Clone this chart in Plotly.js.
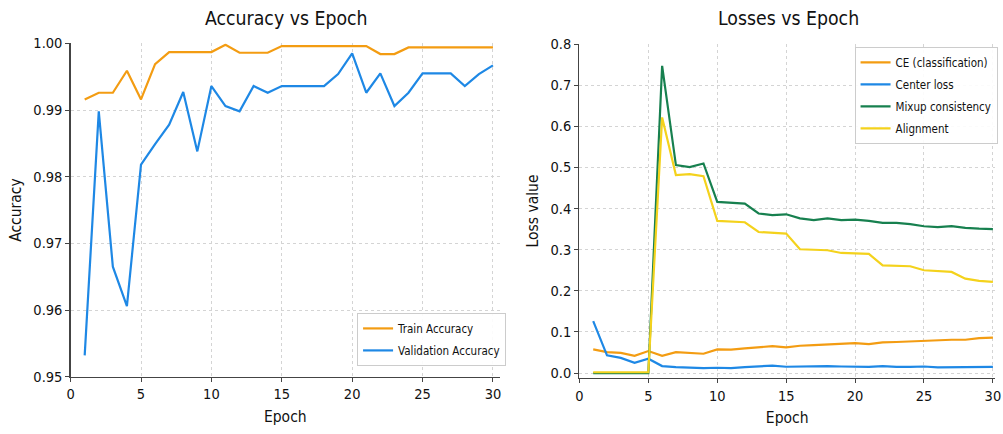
<!DOCTYPE html>
<html>
<head>
<meta charset="utf-8">
<script src="https://cdn.plot.ly/plotly-3.0.1.min.js"></script>
<style>html,body{margin:0;padding:0;background:#fff;}#chart{width:1003px;height:434px;}</style>
</head>
<body>
<div id="chart"></div>
<script>
const epochs = [1,2,3,4,5,6,7,8,9,10,11,12,13,14,15,16,17,18,19,20,21,22,23,24,25,26,27,28,29,30];
const xTicks = [0,5,10,15,20,25,30];

const trainAcc = [0.9916,0.9926,0.9926,0.9959,0.9916,0.9969,0.9987,0.9987,0.9987,0.9987,
                  0.9998,0.9986,0.9986,0.9986,0.9996,0.9996,0.9996,0.9996,0.9996,0.9996,
                  0.9996,0.9984,0.9984,0.9994,0.9994,0.9994,0.9994,0.9994,0.9994,0.9994];
const valAcc   = [0.9532,0.9898,0.9665,0.9606,0.9818,0.9849,0.9878,0.9927,0.9838,0.9936,
                  0.9906,0.9898,0.9936,0.9926,0.9936,0.9936,0.9936,0.9936,0.9954,0.9985,
                  0.9926,0.9955,0.9906,0.9926,0.9955,0.9955,0.9955,0.9936,0.9954,0.9967];

const ceLoss     = [0.0575,0.051,0.049,0.042,0.0535,0.042,0.051,0.0495,0.047,0.0576,
                    0.057,0.060,0.063,0.0655,0.0625,0.0665,0.068,0.0695,0.0705,0.073,
                    0.0705,0.0745,0.0755,0.077,0.0795,0.081,0.081,0.081,0.085,0.086];
const centerLoss = [0.1265,0.043,0.037,0.025,0.035,0.017,0.0146,0.013,0.012,0.013,
                    0.012,0.0146,0.0154,0.018,0.0154,0.016,0.016,0.017,0.016,0.016,
                    0.015,0.017,0.015,0.015,0.016,0.014,0.014,0.015,0.015,0.015];
const mixupLoss  = [0.0,0.0,0.0,0.0,0.0,0.747,0.5056,0.5008,0.5096,0.416,
                    0.414,0.412,0.388,0.384,0.386,0.376,0.372,0.376,0.372,0.373,
                    0.370,0.365,0.365,0.362,0.357,0.355,0.357,0.353,0.351,0.350];
const alignLoss  = [0.002,0.002,0.002,0.002,0.002,0.6216,0.4813,0.4837,0.4788,0.370,
                    0.369,0.3667,0.343,0.3416,0.339,0.301,0.300,0.2986,0.292,0.2905,
                    0.2897,0.262,0.261,0.2597,0.250,0.2483,0.246,0.2296,0.224,0.2215];

const leftTitle = "Accuracy vs Epoch";
const rightTitle = "Losses vs Epoch";

const FONT = "DejaVu Sans Condensed, DejaVu Sans, sans-serif";
const C_ORANGE = "#f39c12", C_BLUE = "#1e88e5", C_GREEN = "#17804f", C_YELLOW = "#f4d21c";

function line(x, y, name, color, xa, ya, legend) {
  return {x: x, y: y, name: name, type: "scatter", mode: "lines", legendgroup: name,
          line: {color: color, width: 2.2}, xaxis: xa, yaxis: ya, legend: legend};
}

const data = [
  line(epochs, trainAcc, "Train Accuracy", C_ORANGE, "x", "y", "legend"),
  line(epochs, valAcc, "Validation Accuracy", C_BLUE, "x", "y", "legend"),
  line(epochs, ceLoss, "CE (classification)", C_ORANGE, "x2", "y2", "legend2"),
  line(epochs, centerLoss, "Center loss", C_BLUE, "x2", "y2", "legend2"),
  line(epochs, mixupLoss, "Mixup consistency", C_GREEN, "x2", "y2", "legend2"),
  line(epochs, alignLoss, "Alignment", C_YELLOW, "x2", "y2", "legend2")
];

const axBase = {
  showline: true, linecolor: "#444", linewidth: 1.3,
  ticks: "outside", ticklen: 4, tickcolor: "#444", tickwidth: 1,
  showgrid: true, gridcolor: "#d4d4d4", griddash: "dot", gridwidth: 1,
  zeroline: false, mirror: false, automargin: false, ticklabeloverflow: "allow",
  tickfont: {family: FONT, size: 14.5, color: "#111"}
};
const xTitle = {text: "Epoch", font: {family: FONT, size: 15.5, color: "#111"}, standoff: 9};

const legBase = {xanchor: "left", yanchor: "top",
           bgcolor: "rgba(255,255,255,0.9)", bordercolor: "#cccccc", borderwidth: 1,
           font: {family: FONT, size: 11.5, color: "#111"}, itemwidth: 30, tracegroupgap: 3};

const layout = {
  width: 1003, height: 434,
  margin: {l: 0, r: 0, t: 0, b: 0},
  paper_bgcolor: "#fff", plot_bgcolor: "#fff",
  showlegend: true,
  xaxis: Object.assign({}, axBase, {domain: [0.0704, 0.4985], range: [0, 30.5], tickmode: "array",
           tickvals: xTicks, ticktext: xTicks.map(String), anchor: "y", title: xTitle}),
  yaxis: Object.assign({}, axBase, {domain: [0.132, 0.9], range: [0.95, 1.0], dtick: 0.01, tick0: 0.95,
           tickformat: ".2f", anchor: "x",
           title: {text: "Accuracy", font: {family: FONT, size: 15.5, color: "#111"}, standoff: 8}}),
  xaxis2: Object.assign({}, axBase, {domain: [0.5777, 0.992], range: [0, 30.15], tickmode: "array",
           tickvals: xTicks, ticktext: xTicks.map(String), anchor: "y2", title: xTitle}),
  yaxis2: Object.assign({}, axBase, {domain: [0.129, 0.8986], range: [-0.012, 0.8], dtick: 0.1, tick0: 0,
           tickformat: ".1f", anchor: "x2",
           title: {text: "Loss value", font: {family: FONT, size: 15.5, color: "#111"}, standoff: 8}}),
  legend: Object.assign({}, legBase, {x: 0.356, y: 0.279}),
  legend2: Object.assign({}, legBase, {x: 0.852, y: 0.892}),
  annotations: [
    {text: leftTitle, xref: "paper", yref: "paper", x: 0.286, y: 0.958, xanchor: "center", yanchor: "middle",
     showarrow: false, font: {family: FONT, size: 19.3, color: "#111"}},
    {text: rightTitle, xref: "paper", yref: "paper", x: 0.786, y: 0.958, xanchor: "center", yanchor: "middle",
     showarrow: false, font: {family: FONT, size: 19.3, color: "#111"}}
  ]
};

Plotly.newPlot("chart", data, layout, {displayModeBar: false, staticPlot: true});
</script>
</body>
</html>
